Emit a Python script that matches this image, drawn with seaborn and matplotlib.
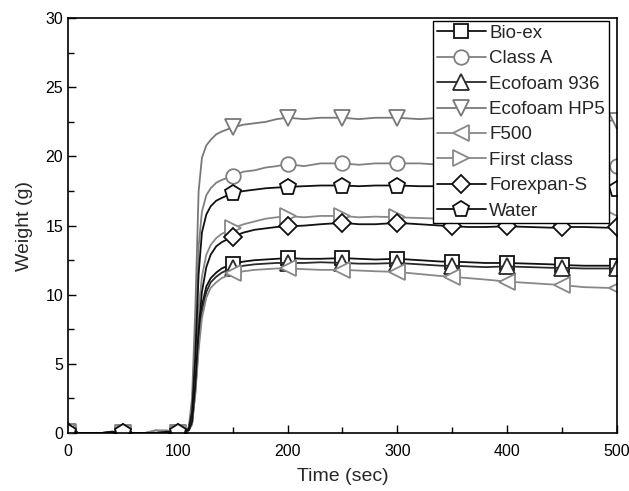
import numpy as np
import pandas as pd
import seaborn as sns
import matplotlib.pyplot as plt

sns.set_style("ticks")
plt.rcParams['font.family'] = ['Liberation Sans', 'DejaVu Sans']

# time grid (sec)
time = [0, 10, 20, 30, 40, 50, 60, 70, 80, 90, 100, 105,
        110, 113, 116, 119, 122, 126, 130, 135, 140, 150, 160, 170, 180, 190, 200,
        215, 230, 250, 265, 280, 300, 320, 340, 350, 365, 380, 400, 420, 440, 450,
        470, 490, 500]

bio_ex = [0.1, 0, 0, 0, 0, 0, 0, 0, 0, 0, 0, 0.1,
          0.2, 0.8, 3.4, 7.0, 9.2, 10.6, 11.2, 11.6, 11.9, 12.25, 12.4, 12.5, 12.55, 12.6, 12.65,
          12.6, 12.6, 12.65, 12.6, 12.55, 12.6, 12.5, 12.4, 12.4, 12.35, 12.3, 12.3, 12.25, 12.2, 12.15,
          12.1, 12.1, 12.1]
class_a = [0, 0, 0, 0, 0, 0, 0, 0, 0.2, 0, 0, 0.1,
           0.3, 1.8, 7.0, 13.5, 16.0, 17.2, 17.7, 18.1, 18.3, 18.6, 18.9, 19.0, 19.2, 19.3, 19.45,
           19.3, 19.5, 19.5, 19.4, 19.5, 19.5, 19.5, 19.4, 19.4, 19.4, 19.4, 19.4, 19.3, 19.3, 19.3,
           19.3, 19.3, 19.3]
ecofoam_936 = [0, 0, 0, 0, 0.1, 0, 0, 0, 0, 0, 0, 0.1,
               0.2, 0.7, 3.0, 6.5, 8.8, 10.2, 10.9, 11.3, 11.6, 11.95, 12.1, 12.2, 12.25, 12.3, 12.3,
               12.3, 12.35, 12.3, 12.25, 12.25, 12.3, 12.2, 12.1, 12.1, 12.05, 12.0, 12.05, 12.0, 11.95, 11.95,
               11.9, 11.9, 11.9]
ecofoam_hp5 = [0.1, 0, 0, 0, 0, 0, 0, 0, 0, 0, 0, 0.1,
               0.4, 2.5, 9.0, 17.5, 19.9, 20.8, 21.2, 21.6, 21.8, 22.1, 22.3, 22.4, 22.5, 22.7, 22.8,
               22.7, 22.8, 22.8, 22.7, 22.8, 22.8, 22.7, 22.8, 22.7, 22.7, 22.7, 22.7, 22.6, 22.7, 22.6,
               22.6, 22.6, 22.6]
f500 = [0, 0, 0, 0, 0, 0, 0, 0, 0.2, 0.2, 0, 0.1,
        0.2, 0.6, 2.8, 6.0, 8.3, 9.8, 10.5, 10.9, 11.2, 11.55, 11.7, 11.8, 11.85, 11.9, 11.9,
        11.85, 11.8, 11.8, 11.75, 11.7, 11.65, 11.5, 11.35, 11.3, 11.2, 11.1, 10.95, 10.85, 10.75, 10.7,
        10.55, 10.5, 10.5]
first_class = [0, 0, 0, 0, 0, 0, 0, 0, 0, 0, 0, 0.1,
               0.2, 1.2, 4.5, 9.0, 11.3, 12.9, 13.6, 14.1, 14.4, 14.8, 15.1, 15.3, 15.5, 15.6, 15.7,
               15.6, 15.7, 15.7, 15.6, 15.65, 15.6, 15.55, 15.5, 15.5, 15.5, 15.45, 15.45, 15.4, 15.4, 15.4,
               15.4, 15.4, 15.4]
forexpan_s = [0.1, 0, 0, 0, 0, 0, 0, 0, 0, 0, 0, 0.1,
              0.2, 0.8, 3.5, 7.5, 10.2, 12.0, 12.9, 13.5, 13.8, 14.2, 14.5, 14.7, 14.8, 14.9, 14.95,
              15.0, 15.1, 15.2, 15.1, 15.1, 15.2, 15.1, 15.0, 14.95, 14.9, 14.9, 14.95, 14.9, 14.85, 14.9,
              14.9, 14.85, 14.9]
water = [0.1, 0, 0, 0, 0.1, 0.05, 0, 0, 0, 0.1, 0.05, 0.1,
         0.3, 1.5, 5.5, 11.5, 14.5, 15.8, 16.4, 16.8, 17.0, 17.35, 17.5, 17.6, 17.7, 17.75, 17.8,
         17.85, 17.9, 17.9, 17.85, 17.9, 17.9, 17.85, 17.85, 17.8, 17.8, 17.8, 17.75, 17.75, 17.7, 17.7,
         17.7, 17.65, 17.65]

names = ["Bio-ex", "Class A", "Ecofoam 936", "Ecofoam HP5", "F500", "First class", "Forexpan-S", "Water"]
series = [bio_ex, class_a, ecofoam_936, ecofoam_hp5, f500, first_class, forexpan_s, water]
markers = ["s", "o", "^", "v", "<", ">", "D", "p"]
sizes = [10, 10.5, 11.5, 11.5, 11.5, 11.5, 9.5, 12]
colors = ["#111111", "#808080", "#2a2a2a", "#787878", "#888888", "#888888", "#111111", "#111111"]

mark_idx = [i for i, t in enumerate(time) if t % 50 == 0]

fig = plt.figure(figsize=(6.29, 4.91), dpi=100)
ax = fig.add_axes([0.108, 0.118, 0.873, 0.845])

for name, vals, m, ms, c in zip(names, series, markers, sizes, colors):
    df = pd.DataFrame({"Time": time, "Weight": vals})
    sns.lineplot(data=df, x="Time", y="Weight", ax=ax, color=c, lw=1.3,
                 marker=m, markersize=ms, markevery=mark_idx, mfc="white",
                 mec=c, mew=1.3, label=name)

# markers on the frame get cut like in the original
for line in ax.lines:
    line.set_clip_on(True)

ax.set_xlim(0, 500)
ax.set_ylim(0, 30)
ax.set_xticks(range(0, 501, 100))
ax.set_xticks(range(0, 501, 50), minor=True)
ax.set_yticks(range(0, 31, 5))
ax.set_yticks(np.arange(0, 30.1, 2.5), minor=True)
ax.tick_params(which="both", direction="in", top=False, right=False, labelsize=11.5, colors="black")
ax.tick_params(which="major", length=6, width=1)
ax.tick_params(which="minor", length=4, width=1)
ax.tick_params(axis="x", pad=8)
for s in ax.spines.values():
    s.set_color("black")
    s.set_linewidth(1.2)
    s.set_zorder(5)
ax.set_xlabel("Time (sec)", fontsize=14, labelpad=6)
ax.set_ylabel("Weight (g)", fontsize=14, labelpad=9)

leg = ax.legend(loc="upper right", bbox_to_anchor=(0.985, 0.993), borderaxespad=0,
                fontsize=13.5, handlelength=2.6, handletextpad=0.2, labelspacing=0.44,
                borderpad=0.2, fancybox=False, framealpha=1, edgecolor="black")
leg.get_frame().set_linewidth(1.0)
leg.set_zorder(10)

fig.savefig("out.png", dpi=100)
